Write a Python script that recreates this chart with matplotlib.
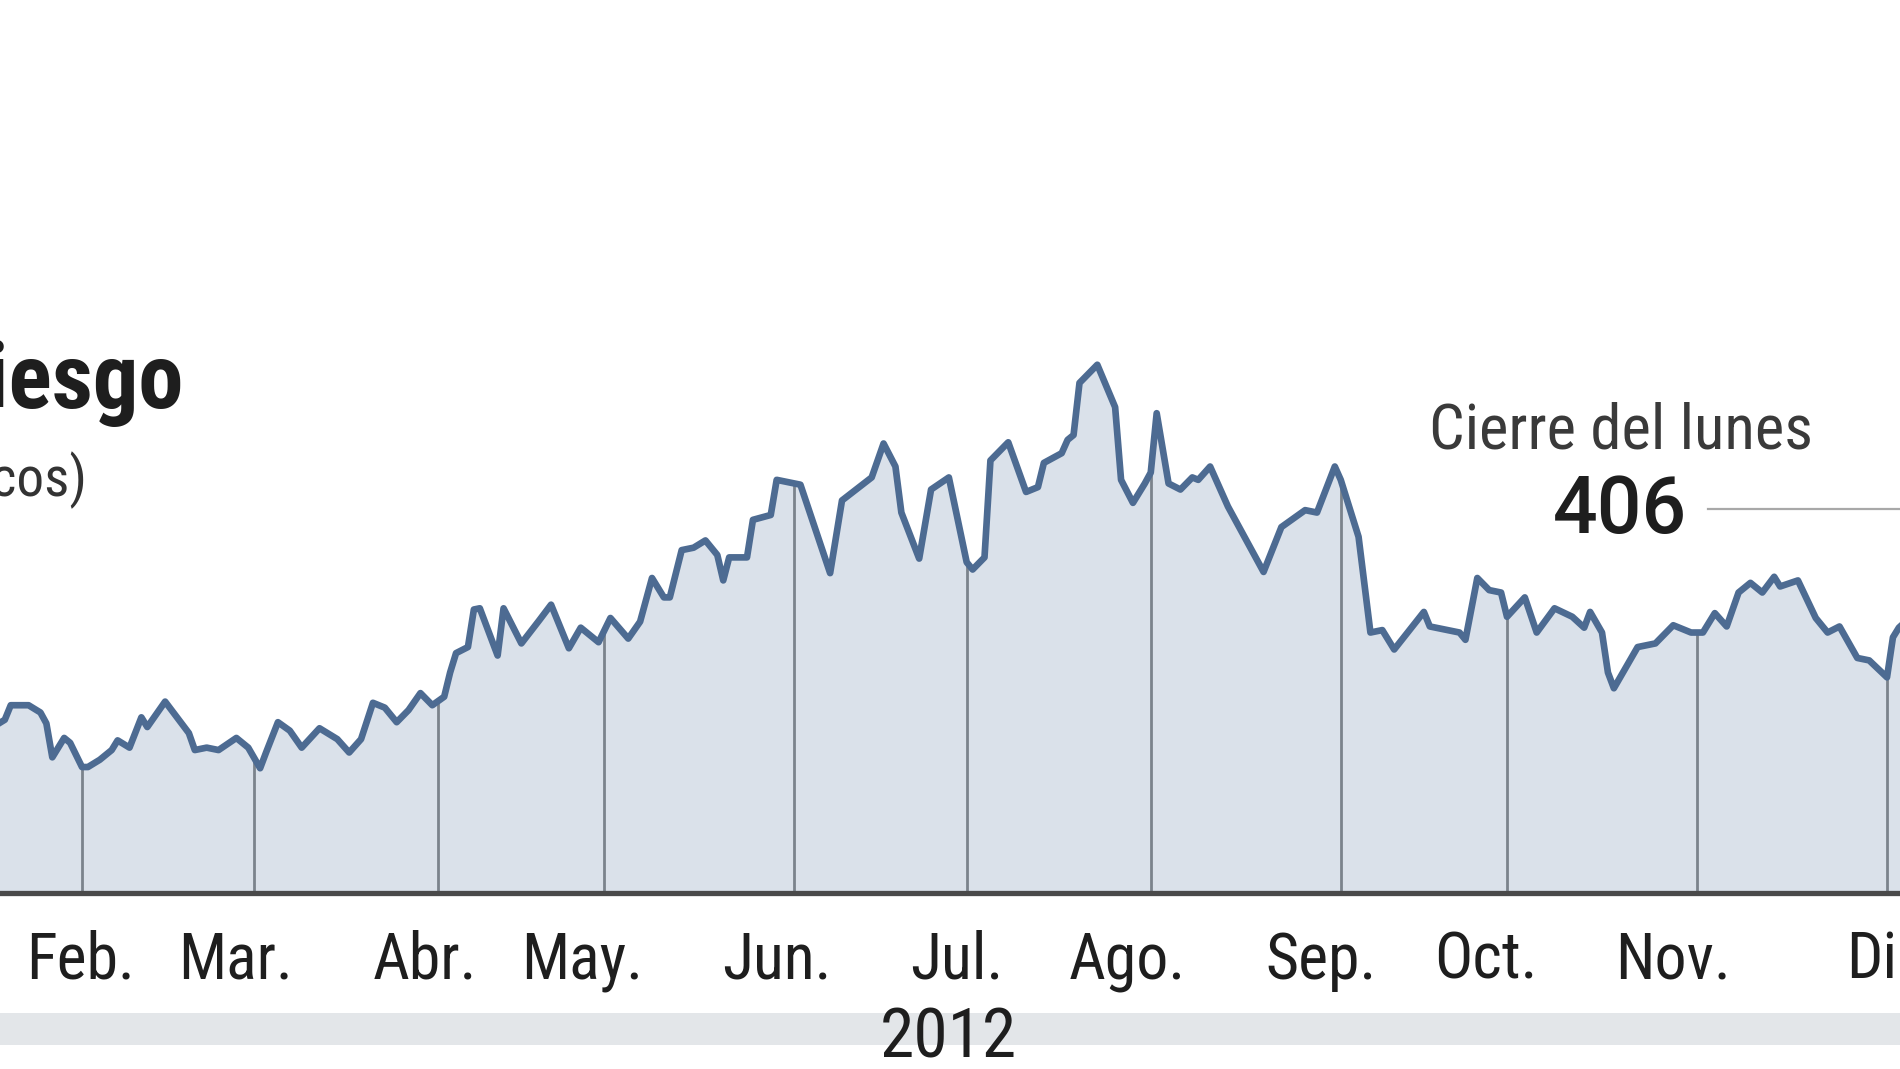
import matplotlib
matplotlib.use("Agg")
import matplotlib.pyplot as plt
import matplotlib.transforms as mtransforms
from matplotlib import font_manager
from matplotlib.patches import Rectangle
import numpy as np

# Prima de riesgo 2012 (puntos basicos), dia del año aproximado y valor
dias = [15, 17, 18, 19, 22, 24, 25, 26, 28, 29, 31, 32, 34, 36, 37, 39, 41, 42, 45, 47,
        49, 50, 52, 54, 57, 59, 61, 62, 64, 66, 68, 71, 72, 74, 76, 78, 80, 82, 84, 86,
        88, 90, 92, 93, 94, 96, 97, 98, 101, 102, 105, 108, 110, 113, 115, 118, 120, 123, 125, 127,
        129, 130, 132, 134, 136, 138, 139, 140, 143, 144, 147, 148, 152, 157, 159, 164, 166, 168, 169, 172,
        174, 177, 180, 181, 183, 184, 187, 190, 192, 193, 196, 197, 198, 199, 202, 205, 206, 208, 210, 211,
        212, 214, 216, 218, 219, 221, 224, 230, 233, 237, 239, 242, 243, 246, 248, 250, 252, 257, 258, 261,
        263, 264, 266, 268, 270, 271, 274, 276, 279, 282, 284, 285, 287, 288, 289, 293, 296, 299, 302, 304,
        306, 308, 310, 312, 314, 316, 317, 320, 323, 325, 327, 330, 332, 335, 336, 337, 339]
prima = [338, 342, 345, 357, 357, 351, 342, 314, 330, 326, 306, 306, 312, 320, 328, 322, 347, 339, 360, 347,
         334, 320, 322, 320, 330, 322, 305, 318, 343, 336, 322, 338, 335, 329, 318, 329, 359, 355, 343, 353,
         367, 357, 364, 384, 400, 405, 436, 437, 398, 437, 408, 427, 440, 404, 421, 409, 429, 412, 426, 462,
         446, 446, 485, 487, 493, 481, 460, 479, 479, 510, 514, 543, 539, 466, 526, 545, 573, 554, 516, 478,
         535, 545, 475, 469, 479, 559, 574, 533, 537, 557, 565, 576, 580, 623, 638, 603, 543, 524, 540, 549,
         598, 540, 535, 545, 543, 554, 521, 467, 504, 518, 516, 554, 543, 496, 417, 419, 403, 434, 422, 419,
         417, 411, 462, 452, 450, 430, 446, 417, 437, 430, 421, 434, 417, 384, 371, 405, 408, 423, 417, 417,
         433, 422, 450, 458, 450, 463, 455, 460, 429, 417, 422, 396, 394, 380, 413, 421, 430]

meses = ["Feb.", "Mar.", "Abr.", "May.", "Jun.", "Jul.", "Ago.", "Sep.", "Oct.", "Nov.", "Dic."]
dias_mes = [31, 60, 91, 119, 151, 180, 211, 243, 271, 303, 335]
dias_etiqueta = [30.8, 56.9, 88.8, 115.2, 148, 178.4, 207, 239.7, 267.5, 299, 336.3]
cierre_lunes = 406

base = 202

# buscar una letra estrecha si la hay
fuentes = font_manager.fontManager.ttflist
nombres = {f.name for f in fuentes}
estrecha = None
estiramiento = "normal"
for cand in ["Roboto Condensed", "Liberation Sans Narrow", "Open Sans Condensed",
             "Noto Sans Condensed", "DejaVu Sans Condensed"]:
    if cand in nombres:
        estrecha = cand
        break
if estrecha is None:
    for f in fuentes:
        if f.name in ("DejaVu Sans", "Noto Sans", "Open Sans") and "condensed" in str(f.stretch):
            estrecha = f.name
            estiramiento = "condensed"
            break
if estrecha is None:
    estrecha = "Liberation Sans" if "Liberation Sans" in nombres else "DejaVu Sans"
normal = "Roboto" if "Roboto" in nombres else "DejaVu Sans"

fig = plt.figure(figsize=(19, 10.69), dpi=100)
fig.patch.set_facecolor("white")
rend = fig.canvas.get_renderer()


def tam_para(texto, ancho_px, **kw):
    # tamaño de letra que da el ancho visto en la imagen
    t = fig.text(0, 0, texto, fontsize=100, **kw)
    w = t.get_window_extent(renderer=rend).width
    t.remove()
    return 100 * ancho_px / w


kw_e = dict(family=estrecha, fontstretch=estiramiento)
tam_mes = tam_para("Feb.", 109, **kw_e)
tam_anio = tam_para("2012", 137, **kw_e)
tam_cierre = tam_para("Cierre del lunes", 384, **kw_e)
tam_titulo = tam_para("iesgo", 198, fontweight="bold", **kw_e)
tam_sub = tam_para("cos)", 96, **kw_e)
tam_num = tam_para("406", 134, family=normal, fontweight="medium")

# banda gris inferior
fig.patches.append(Rectangle((0, 0.022), 1, 0.03, transform=fig.transFigure,
                             facecolor="#e3e6e9", edgecolor="none", zorder=0))

ax = fig.add_axes([0, 0.1646, 1, 0.8354])
ax.set_xlim(17.19, 337.19)
ax.set_ylim(base, 939)
ax.axis("off")

ax.fill_between(dias, prima, base, color="#dae1ea", lw=0, zorder=1)
alturas = np.interp(dias_mes, dias, prima)
ax.vlines(dias_mes, base, alturas, color="#7b838c", lw=2, zorder=2)
ax.plot(dias, prima, color="#4d6b92", lw=4.8, solid_joinstyle="round", zorder=3)
ax.axhline(base, color="#4a4a4a", lw=3.8, clip_on=False, zorder=4)

trans = mtransforms.blended_transform_factory(ax.transData, fig.transFigure)
for d, m in zip(dias_etiqueta, meses):
    ax.text(d, 0.0842, m, transform=trans, ha="center", va="baseline",
            fontsize=tam_mes, color="#1e1e1e", clip_on=False, **kw_e)

fig.text(0.499, 0.0103, "2012", ha="center", va="baseline",
         fontsize=tam_anio, color="#1e1e1e", **kw_e)

# titulo (cortado por la izquierda)
fig.text(0.0965, 0.6183, "Prima de riesgo", ha="right", va="baseline",
         fontweight="bold", fontsize=tam_titulo, color="#1e1e1e", **kw_e)
fig.text(0.0455, 0.5360, "(puntos básicos)", ha="right", va="baseline",
         fontsize=tam_sub, color="#333333", **kw_e)

# anotacion del cierre
fig.text(0.853, 0.5809, "Cierre del lunes", ha="center", va="baseline",
         fontsize=tam_cierre, color="#3a3a3a", **kw_e)
fig.text(0.8526, 0.5014, str(cierre_lunes), ha="center", va="baseline",
         family=normal, fontweight="medium", fontsize=tam_num, color="#1e1e1e")
fig.add_artist(plt.Line2D([0.899, 1.0], [0.5239, 0.5239], transform=fig.transFigure,
                          color="#a8a8a8", lw=1.6))

fig.savefig("out.png", dpi=100)
